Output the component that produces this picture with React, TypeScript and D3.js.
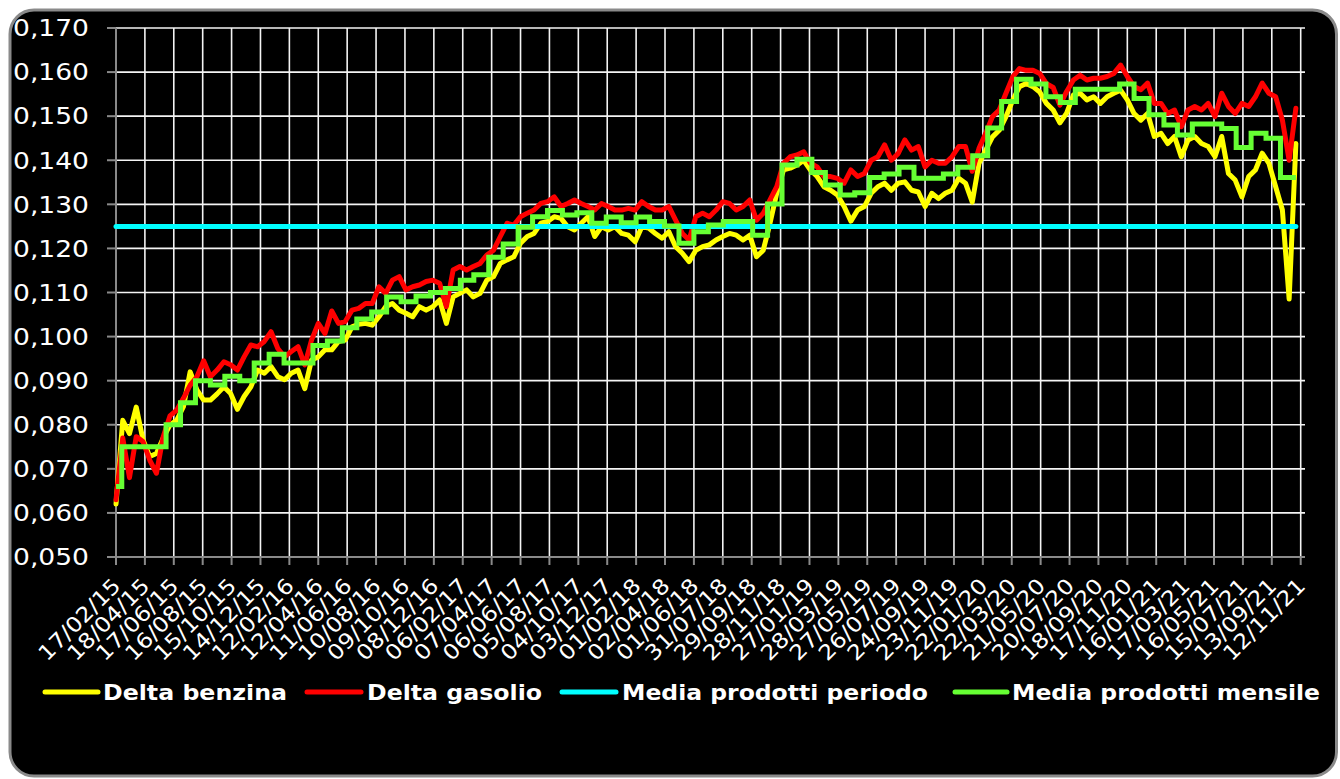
import React from "react";
import * as d3 from "d3";

// ---------- DATA ----------
const tickLabels = [
  "17/02/15","18/04/15","17/06/15","16/08/15","15/10/15","14/12/15","12/02/16","12/04/16",
  "11/06/16","10/08/16","09/10/16","08/12/16","06/02/17","07/04/17","06/06/17","05/08/17",
  "04/10/17","03/12/17","01/02/18","02/04/18","01/06/18","31/07/18","29/09/18","28/11/18",
  "27/01/19","28/03/19","27/05/19","26/07/19","24/09/19","23/11/19","22/01/20","22/03/20",
  "21/05/20","20/07/20","18/09/20","17/11/20","16/01/21","17/03/21","16/05/21","15/07/21",
  "13/09/21","12/11/21"
];
const yTicks = [0.05, 0.06, 0.07, 0.08, 0.09, 0.1, 0.11, 0.12, 0.13, 0.14, 0.15, 0.16, 0.17];

const STEP_DAYS = 14; // one reading every 14 days from 17/02/15

const benzina = [
  0.062,0.081,0.078,0.084,0.0766,0.0728,0.0735,0.077,0.080,0.081,
  0.0841,0.092,0.0879,0.0856,0.0856,0.087,0.0886,0.0871,0.0835,0.0864,
  0.0886,0.0924,0.0917,0.0932,0.0909,0.0902,0.0917,0.0924,0.0882,0.0947,
  0.0954,0.097,0.097,0.0989,0.0992,0.1022,0.1028,0.103,0.1026,0.1045,
  0.1068,0.1075,0.106,0.1053,0.1045,0.1068,0.106,0.1068,0.1083,0.103,
  0.109,0.1098,0.1106,0.109,0.1098,0.1128,0.1136,0.1166,0.1174,0.1181,
  0.1212,0.1227,0.1234,0.1257,0.1261,0.1272,0.1268,0.1249,0.1242,0.1257,
  0.1272,0.1227,0.1249,0.1242,0.1249,0.1234,0.123,0.1215,0.1249,0.1246,
  0.1234,0.1223,0.1238,0.1204,0.1189,0.117,0.1196,0.1204,0.1208,0.1219,
  0.1227,0.1234,0.123,0.1219,0.123,0.1181,0.1196,0.1257,0.1325,0.1378,
  0.1382,0.1389,0.140,0.1378,0.1363,0.134,0.1332,0.1321,0.1295,0.1262,
  0.1287,0.1295,0.1325,0.134,0.1348,0.1332,0.1348,0.1351,0.1332,0.1328,
  0.1295,0.1325,0.1313,0.1325,0.1332,0.1359,0.1348,0.1305,0.1393,0.1423,
  0.1453,0.1468,0.1499,0.1536,0.1567,0.1574,0.1567,0.1555,0.1529,0.1514,
  0.1485,0.1507,0.1548,0.1552,0.1537,0.1544,0.1529,0.1544,0.1552,0.1559,
  0.1537,0.1506,0.1491,0.1506,0.1454,0.1461,0.1438,0.1454,0.1408,0.1446,
  0.1454,0.1438,0.1431,0.1408,0.1454,0.137,0.1355,0.1317,0.1363,0.1378,
  0.1416,0.1393,0.134,0.1287,0.1085,0.1438
];
const gasolio = [
  0.063,0.077,0.068,0.0773,0.0762,0.072,0.069,0.0773,0.082,0.0833,
  0.086,0.089,0.0909,0.0945,0.0909,0.0924,0.0943,0.0936,0.0924,0.0954,
  0.0981,0.0977,0.0989,0.1011,0.0973,0.0954,0.0966,0.0977,0.0936,0.0992,
  0.103,0.1007,0.1058,0.103,0.1034,0.106,0.1064,0.1075,0.1075,0.1113,
  0.1098,0.1128,0.1136,0.1106,0.1113,0.1117,0.1125,0.1128,0.1121,0.1068,
  0.1151,0.1159,0.1151,0.1159,0.1166,0.1185,0.1196,0.1227,0.1257,0.1253,
  0.1272,0.128,0.1287,0.1302,0.1306,0.1317,0.1295,0.1302,0.131,0.1302,
  0.1295,0.1287,0.1302,0.1295,0.1287,0.1287,0.1291,0.1287,0.1306,0.1295,
  0.1287,0.1287,0.1295,0.1264,0.1234,0.1219,0.1272,0.128,0.1272,0.1287,
  0.1306,0.1302,0.1287,0.1295,0.131,0.1264,0.128,0.131,0.134,0.1393,
  0.1408,0.1412,0.1419,0.1393,0.1385,0.1363,0.1363,0.1359,0.1348,0.1378,
  0.1363,0.137,0.140,0.1408,0.1435,0.140,0.1415,0.1446,0.1423,0.1431,
  0.1385,0.140,0.1393,0.1393,0.1408,0.1431,0.1431,0.1375,0.1427,0.1461,
  0.1499,0.1514,0.1552,0.1589,0.1608,0.1604,0.1604,0.1597,0.1574,0.1565,
  0.1525,0.1556,0.1582,0.1593,0.1582,0.1586,0.1586,0.159,0.1597,0.1616,
  0.159,0.1567,0.156,0.1575,0.1529,0.1529,0.1506,0.1514,0.1476,0.1514,
  0.1522,0.1514,0.1529,0.1499,0.1552,0.1522,0.1506,0.1529,0.1522,0.1544,
  0.1575,0.1552,0.1544,0.1491,0.140,0.1518
];
const mediaPeriodo = 0.125;
// monthly average, Feb 2015 .. Oct 2021
const mediaMensile = [
  0.066,0.075,0.075,0.075,0.080,0.085,0.090,0.089,0.091,0.090,0.094,
  0.096,0.094,0.094,0.098,0.099,0.102,0.104,0.1056,0.109,0.1079,0.1092,0.110,
  0.1109,0.1128,0.114,0.118,0.121,0.1248,0.1272,0.1286,0.1276,0.1281,0.1257,0.1271,
  0.1258,0.1271,0.1261,0.1251,0.1212,0.1238,0.1253,0.1261,0.1261,0.123,0.1301,0.1389,
  0.1402,0.1372,0.1344,0.1321,0.1326,0.1361,0.1369,0.1384,0.1359,0.1359,0.1369,0.1384,
  0.141,0.1473,0.1533,0.1584,0.1573,0.1544,0.1531,0.1561,0.1561,0.1561,0.1573,0.154,
  0.1503,0.148,0.1457,0.1482,0.1482,0.1472,0.1429,0.1461,0.145,0.1361
];
const legendItems = ["Delta benzina", "Delta gasolio", "Media prodotti periodo", "Media prodotti mensile"];
const seriesColors = ["#FFFF00", "#FF0000", "#00FFFF", "#66FF33"];

// ---------- LAYOUT ----------
const W = 1340, H = 779;
const PL = 116, PR = 1305, PT = 28, PB = 557;
const FONT = "'DejaVu Sans', Verdana, sans-serif";

export default function App() {
  const parse = d3.timeParse("%d/%m/%y");
  const tickDates = tickLabels.map((t) => parse(t) as Date);
  const start = tickDates[0];
  const x = d3.scaleTime().domain([start, tickDates[tickDates.length - 1]]).range([PL, 1300.7]);
  const y = d3.scaleLinear().domain([0.05, 0.17]).range([PB, PT]);

  const dates = benzina.map((_, i) => d3.timeDay.offset(start, i * STEP_DAYS));
  const endDate = dates[dates.length - 1];

  const line = d3.line<[Date, number]>().x((d) => x(d[0])).y((d) => y(d[1]));
  const stepLine = d3.line<[Date, number]>().x((d) => x(d[0])).y((d) => y(d[1])).curve(d3.curveStepAfter);

  const pBenz = line(benzina.map((v, i) => [dates[i], v]));
  const pGas = line(gasolio.map((v, i) => [dates[i], v]));
  const pPer = line([[start, mediaPeriodo], [endDate, mediaPeriodo]]);
  const monthPts: [Date, number][] = mediaMensile.map((v, k) => [
    k === 0 ? start : new Date(2015, 1 + k, 1),
    v,
  ]);
  monthPts.push([endDate, mediaMensile[mediaMensile.length - 1]]);
  const pMon = stepLine(monthPts);

  const fmt = (v: number) => d3.format(".3f")(v).replace(".", ",");

  const legendPos = [
    { x1: 45, x2: 98, tx: 103, tl: 184 },
    { x1: 307, x2: 361, tx: 367, tl: 175 },
    { x1: 562, x2: 616, tx: 622, tl: 306 },
    { x1: 955, x2: 1007, tx: 1012, tl: 308 },
  ];

  return (
    <div style={{ position: "absolute", left: 0, top: 0 }}>
      <svg width={W} height={H} viewBox={`0 0 ${W} ${H}`} style={{ display: "block", background: "#fff" }}>
        <rect x={10} y={10} width={1326.5} height={766} rx={24} ry={24} fill="#000" stroke="#8a8a8a" strokeWidth={3} />

        {/* horizontal gridlines + y ticks */}
        {yTicks.map((t) => (
          <g key={"y" + t}>
            {t > 0.05 && (
              <line x1={PL} x2={PR} y1={y(t)} y2={y(t)} stroke="#f4f4f4" strokeWidth={1.6} />
            )}
            <line x1={107} x2={PL} y1={y(t)} y2={y(t)} stroke="#8a8a8a" strokeWidth={2} />
            <text
              x={89}
              y={y(t)}
              dy="0.36em"
              textAnchor="end"
              fill="#fff"
              fontFamily={FONT}
              fontSize={23}
              textLength={76}
              lengthAdjust="spacingAndGlyphs"
            >
              {fmt(t)}
            </text>
          </g>
        ))}

        {/* vertical gridlines + x ticks */}
        {tickDates.map((d, i) => (
          <g key={"x" + i}>
            {i > 0 && <line x1={x(d)} x2={x(d)} y1={PT} y2={PB} stroke="#f4f4f4" strokeWidth={1.6} />}
            <line x1={x(d)} x2={x(d)} y1={PB} y2={PB + 8} stroke="#8a8a8a" strokeWidth={2} />
            <text
              transform={`translate(${x(d) + 6},587) rotate(-45)`}
              textAnchor="end"
              fill="#fff"
              fontFamily={FONT}
              fontSize={21}
              textLength={106}
              lengthAdjust="spacingAndGlyphs"
            >
              {tickLabels[i]}
            </text>
          </g>
        ))}

        {/* axes */}
        <line x1={PL} x2={PL} y1={PT} y2={PB} stroke="#8a8a8a" strokeWidth={2} />
        <line x1={PL} x2={PR} y1={PB} y2={PB} stroke="#8a8a8a" strokeWidth={2} />

        {/* series */}
        <g fill="none" strokeWidth={5} strokeLinejoin="round" strokeLinecap="round">
          <path d={pBenz || ""} stroke={seriesColors[0]} />
          <path d={pGas || ""} stroke={seriesColors[1]} />
          <path d={pPer || ""} stroke={seriesColors[2]} />
          <path d={pMon || ""} stroke={seriesColors[3]} strokeLinejoin="miter" strokeLinecap="butt" />
        </g>

        {/* legend */}
        {legendItems.map((name, i) => (
          <g key={name}>
            <line
              x1={legendPos[i].x1}
              x2={legendPos[i].x2}
              y1={692}
              y2={692}
              stroke={seriesColors[i]}
              strokeWidth={5}
              strokeLinecap="round"
            />
            <text
              x={legendPos[i].tx}
              y={700}
              fill="#fff"
              fontFamily={FONT}
              fontWeight="bold"
              fontSize={21}
              textLength={legendPos[i].tl}
              lengthAdjust="spacingAndGlyphs"
            >
              {name}
            </text>
          </g>
        ))}
      </svg>
    </div>
  );
}
